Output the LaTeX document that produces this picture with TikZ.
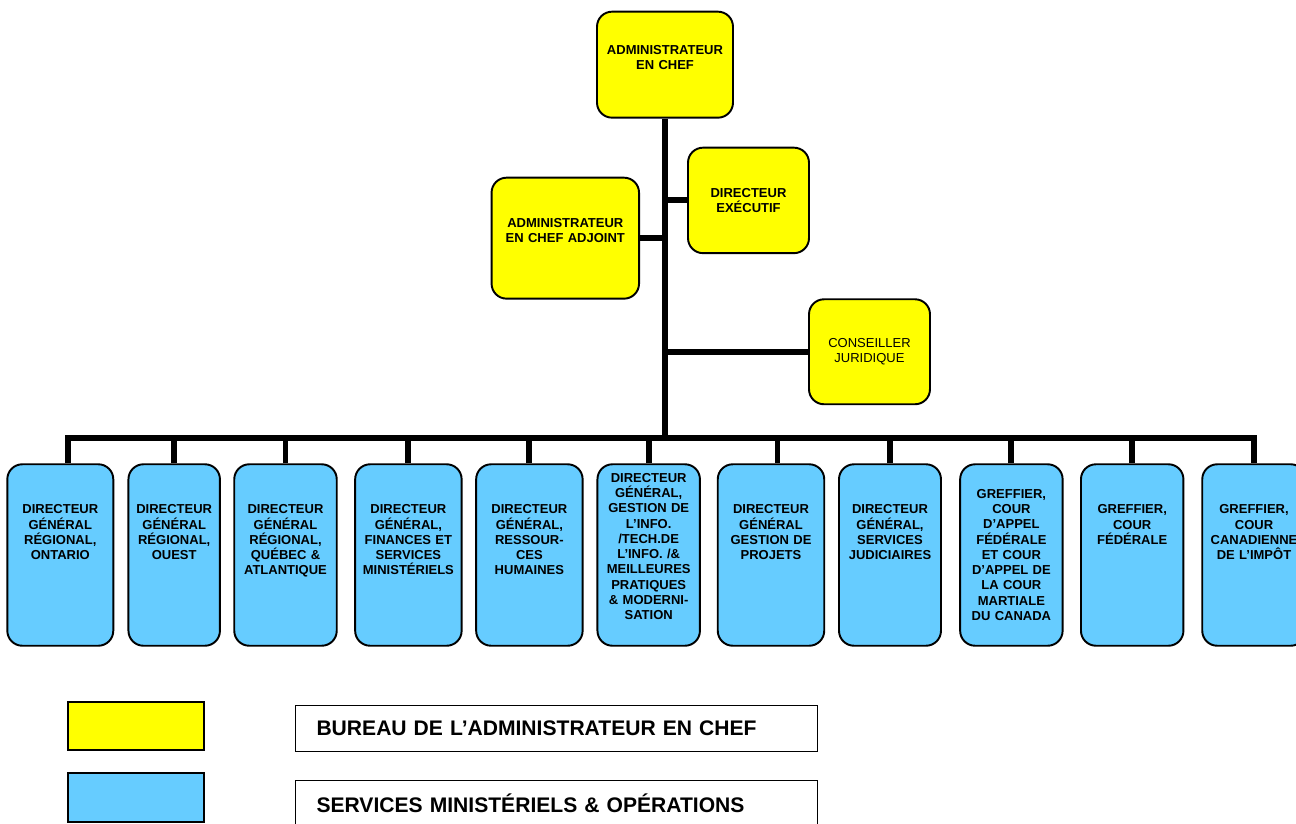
\documentclass[tikz,border=0pt]{standalone}
\usepackage{fontspec}
\setmainfont{Liberation Sans}
\usepackage{tikz}
\usetikzlibrary{positioning}
\definecolor{chiefyellow}{RGB}{255,255,0}
\definecolor{opsblue}{RGB}{102,204,255}
\tikzset{
  unit/.style={rectangle, draw=black, line width=1.1pt, rounded corners=0.3cm,
    inner xsep=0pt, inner ysep=0pt, align=center, anchor=north,
    font=\fontsize{7.4}{8.7}\selectfont\bfseries},
  topunit/.style={unit, fill=chiefyellow},
  opsunit/.style={unit, fill=opsblue, text width=#1,
    text height=0.99cm, text depth=2.64cm},
  conn/.style={line width=3.4pt, color=black, line join=miter},
  keybox/.style={rectangle, draw=black, line width=1.1pt,
    minimum width=2.72cm, minimum height=0.97cm, inner sep=0pt},
  keytext/.style={rectangle, draw=black, line width=0.6pt, anchor=west,
    text width=9.6cm, inner xsep=0.42cm, minimum height=0.92cm, align=left,
    font=\fontsize{12}{14}\selectfont\bfseries}
}

\begin{document}
\begin{tikzpicture}[x=0.02cm, y=-0.02cm]
  \useasboundingbox (0,0) rectangle (1296,823);
  % office of the chief administrator
  \node[topunit, text width=2.72cm, text height=0.85cm, text depth=1.27cm]
       (chief) at (665,10.7) {ADMINISTRATEUR\\EN CHEF};
  \node[topunit, text width=2.42cm, text height=0.99cm, text depth=1.12cm]
       (exec) at (748.5,146.7) {DIRECTEUR\\EXÉCUTIF};
  \node[topunit, text width=2.95cm, text height=1.0cm, text depth=1.42cm]
       (deputy) at (565.3,176.7) {ADMINISTRATEUR\\EN CHEF ADJOINT};
  \node[topunit, text width=2.42cm, text height=0.96cm, text depth=1.14cm,
        font=\fontsize{7.4}{8.7}\selectfont\mdseries]
       (legal) at (869.5,298.3) {CONSEILLER\\JURIDIQUE};
  % services and operations
  \node[opsunit=2.12cm] (b1) at (60.3,463.3) {DIRECTEUR\\GÉNÉRAL\\RÉGIONAL,\\ONTARIO};
  \node[opsunit=1.83cm] (b2) at (174.2,463.3) {DIRECTEUR\\GÉNÉRAL\\RÉGIONAL,\\OUEST};
  \node[opsunit=2.05cm] (b3) at (285.5,463.3) {DIRECTEUR\\GÉNÉRAL\\RÉGIONAL,\\QUÉBEC \&\\ATLANTIQUE};
  \node[opsunit=2.13cm] (b4) at (408.4,463.3) {DIRECTEUR\\GÉNÉRAL,\\FINANCES ET\\SERVICES\\MINISTÉRIELS};
  \node[opsunit=2.13cm] (b5) at (529.4,463.3) {DIRECTEUR\\GÉNÉRAL,\\RESSOUR-\\CES\\HUMAINES};
  \node[opsunit=2.05cm, text height=0.36cm, text depth=3.27cm]
       (b6) at (648.7,463.3) {DIRECTEUR\\GÉNÉRAL,\\GESTION DE\\L’INFO.\\/TECH.DE\\L’INFO. /\&\\MEILLEURES\\PRATIQUES\\\& MODERNI-\\SATION};
  \node[opsunit=2.13cm] (b7) at (771,463.3) {DIRECTEUR\\GÉNÉRAL\\GESTION DE\\PROJETS};
  \node[opsunit=2.04cm] (b8) at (890,463.3) {DIRECTEUR\\GÉNÉRAL,\\SERVICES\\JUDICIAIRES};
  \node[opsunit=2.05cm, text height=0.68cm, text depth=2.95cm]
       (b9) at (1011.4,463.3) {GREFFIER,\\COUR\\D’APPEL\\FÉDÉRALE\\ET COUR\\D’APPEL DE\\LA COUR\\MARTIALE\\DU CANADA};
  \node[opsunit=2.05cm] (b10) at (1132.2,463.3) {GREFFIER,\\COUR\\FÉDÉRALE};
  \node[opsunit=2.07cm] (b11) at (1254,463.3) {GREFFIER,\\COUR\\CANADIENNE\\DE L’IMPÔT};
  % reporting lines
  \coordinate (hub) at (666,438);
  \coordinate (d1) at ([xshift=0.154cm]b1.north);
  \coordinate (d7) at ([xshift=0.13cm]b7.north);
  \draw[conn] (chief.south) -- (chief.south |- hub);
  \draw[conn] (exec.west) -- (exec.west -| chief.south);
  \draw[conn] (deputy.east) -- (deputy.east -| chief.south);
  \draw[conn] (legal.west) -- (legal.west -| chief.south);
  \draw[conn] (d1) -- (d1 |- hub) -- (b11.north |- hub) -- (b11.north);
  \foreach \i in {2,3,4,5,6,8,9,10}
    \draw[conn] (b\i.north) -- (b\i.north |- hub);
  \draw[conn] (d7) -- (d7 |- hub);
  % legend
  \node[keybox, fill=chiefyellow] (keyoffice) at (136,726) {};
  \node[keybox, fill=opsblue] (keyops) at (136,797.5) {};
  \node[keytext] (txtoffice) at (295,728.7) {BUREAU DE L’ADMINISTRATEUR EN CHEF};
  \node[keytext] (txtops) at (295,803.7) {SERVICES MINISTÉRIELS \& OPÉRATIONS};
\end{tikzpicture}
\end{document}
